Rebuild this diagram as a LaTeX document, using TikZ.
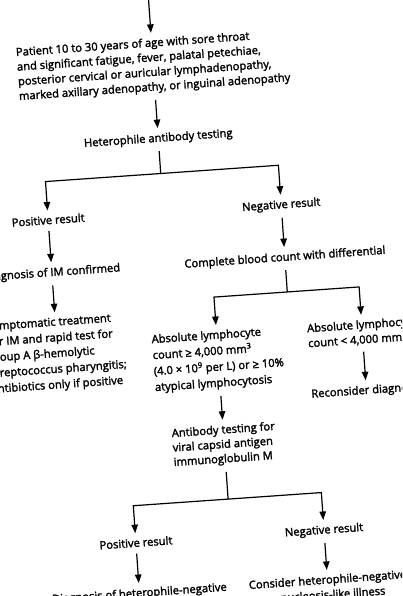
\documentclass[tikz,border=0pt]{standalone}
\usepackage{fontspec}
\setmainfont{Open Sans}[FakeBold=2]
\usetikzlibrary{arrows.meta}
\tikzset{
  txt/.style={font=\fontsize{11.2}{15}\selectfont, inner xsep=2.5pt, inner ysep=5pt, anchor=north, align=left},
  arr/.style={-{Triangle[length=8.5pt,width=6.5pt]}, line width=1.2pt, shorten <=1.5pt},
  arrj/.style={-{Triangle[length=8.5pt,width=6.5pt]}, line width=1.2pt},
  ln/.style={line width=1.2pt, shorten <=1.5pt},
}
\begin{document}
\begin{tikzpicture}[x=1pt,y=-1pt]
\useasboundingbox (0,0) rectangle (402,596);
\fill[white] (0,0) rectangle (402,596);
\clip (0,0) rectangle (402,596);
\begin{scope}[rotate around={4:(201,298)}, transform shape]
\coordinate (top) at (169.5,-20);
\node[txt, font=\fontsize{11.2}{14.7}\selectfont] (patient) at (169.5,30) {Patient 10 to 30 years of age with sore throat\\and significant fatigue, fever, palatal petechiae,\\posterior cervical or auricular lymphadenopathy,\\marked axillary adenopathy, or inguinal adenopathy};
\node[txt] (het) at (169.5,125.5) {Heterophile antibody testing};
\coordinate (j1) at (169.5,171);
\node[txt] (pos) at (54,200) {Positive result};
\node[txt] (neg) at (287.5,200.5) {Negative result};
\node[txt] (diag) at (54,252) {Diagnosis of IM confirmed};
\node[txt] (cbc) at (287.5,253) {Complete blood count with differential};
\coordinate (j2) at (287.5,298);
\node[txt, font=\fontsize{11.2}{15.7}\selectfont] (sympt) at (54,302) {Symptomatic treatment\\for IM and rapid test for\\group A β-hemolytic\\streptococcus pharyngitis;\\antibiotics only if positive};
\node[txt, font=\fontsize{11.2}{16}\selectfont] (absge) at (214,326) {Absolute lymphocyte\\count ≥ 4,000 mm\textsuperscript{3}\\(4.0 × 10\textsuperscript{9} per L) or ≥ 10\%\\atypical lymphocytosis};
\node[txt] (absl) at (359.5,326) {Absolute lymphocyte\\count < 4,000 mm\textsuperscript{3}};
\node[txt] (recon) at (359.5,391.5) {Reconsider diagnosis};
\node[txt, font=\fontsize{11.2}{14.5}\selectfont] (anti) at (214,421) {Antibody testing for\\viral capsid antigen\\immunoglobulin M};
\coordinate (j3) at (214,500.5);
\node[txt] (pos2) at (119,528) {Positive result};
\node[txt] (neg2) at (307.5,528) {Negative result};
\node[txt] (diagh) at (119,578) {Diagnosis of heterophile-negative};
\node[txt] (cons) at (307.5,578) {Consider heterophile-negative\\mononucleosis-like illness};
\draw[arrj] (top) -- (patient.north);
\draw[arr] (patient.south) -- (het.north);
\draw[ln] (het.south) -- (j1);
\draw[arrj] (j1) -| (pos.north);
\draw[arrj] (j1) -| (neg.north);
\draw[arr] (pos.south) -- (diag.north);
\draw[arr] (neg.south) -- (cbc.north);
\draw[arr] (diag.south) -- (sympt.north);
\draw[ln] (cbc.south) -- (j2);
\draw[arrj] (j2) -| (absge.north);
\draw[arrj] (j2) -| (absl.north);
\draw[arr] (absl.south) -- (recon.north);
\draw[arr] (absge.south) -- (anti.north);
\draw[ln] (anti.south) -- (j3);
\draw[arrj] (j3) -| (pos2.north);
\draw[arrj] (j3) -| (neg2.north);
\draw[arr] (pos2.south) -- (diagh.north);
\draw[arr] (neg2.south) -- (cons.north);
\end{scope}
\end{tikzpicture}
\end{document}
